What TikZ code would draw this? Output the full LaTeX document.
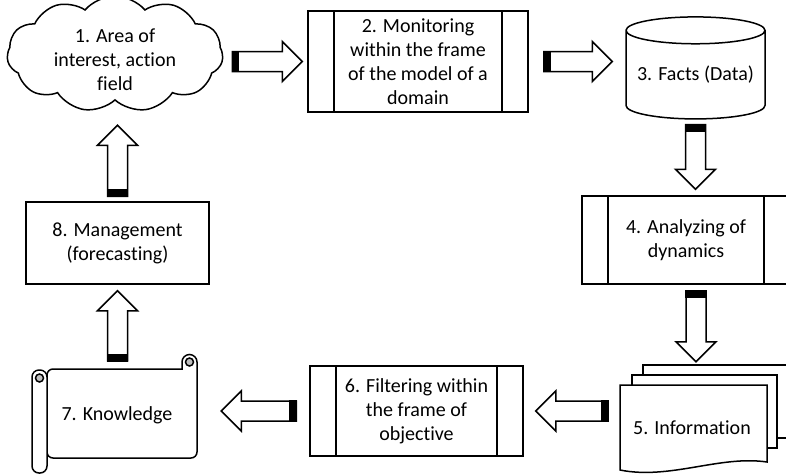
\documentclass[tikz,border=0pt]{standalone}
\usepackage{fontspec}
\setmainfont{Carlito}[Ligatures=NoCommon]
\usetikzlibrary{calc}
\usetikzlibrary{shapes.symbols}
\usetikzlibrary{shapes.geometric}
\tikzstyle{object}=[line width=1.5pt]
\tikzstyle{stage}=[object, draw, fill=white, align=center, inner sep=0pt]
\tikzstyle{process}=[stage, path picture={
    \draw[object] ([xshift=26pt]path picture bounding box.north west)
      -- ([xshift=26pt]path picture bounding box.south west);
    \draw[object] ([xshift=-26pt]path picture bounding box.north east)
      -- ([xshift=-26pt]path picture bounding box.south east);}]
\tikzstyle{fatarrow}=[object, draw, fill=white, line join=miter]

% hollow block arrow from #1 (tail) to #2 (tip)
\newcommand\blockarrow[2]{%
  \draw[fatarrow] let \p1=(#1), \p2=(#2),
      \n1={veclen(\x2-\x1,\y2-\y1)}, \n2={atan2(\y2-\y1,\x2-\x1)} in
    [shift={(\p1)}, rotate=\n2]
    (0pt,-10pt) -- ({\n1-20pt},-10pt) -- ({\n1-20pt},-20pt) -- (\n1,0pt)
    -- ({\n1-20pt},20pt) -- ({\n1-20pt},10pt) -- (0pt,10pt) -- cycle;
  \fill let \p1=(#1), \p2=(#2), \n2={atan2(\y2-\y1,\x2-\x1)} in
    [shift={(\p1)}, rotate=\n2]
    (-0.75pt,-10.75pt) rectangle (7pt,10.75pt);}

\begin{document}
\begin{tikzpicture}[x=1pt, y=-1pt, font=\fontsize{20}{24}\selectfont]
  \useasboundingbox (0,0) rectangle (786,475);

  \node[stage, cloud, cloud puffs=11, cloud puff arc=100, cloud ignores aspect,
    minimum width=216, minimum height=116] (area) at (115,54) {};
  \node[align=center] (areatext) at (115,60) {1. Area of\\interest, action\\field};
  \node[process, minimum width=220, minimum height=101] (monitor) at (418,61.5)
    {2. Monitoring\\within the frame\\of the model of a\\domain};
  \node[stage, cylinder, shape border rotate=90, aspect=0.23,
    minimum width=139, minimum height=102] (facts) at (695.5,75)
    {3. Facts (Data)};
  \node[process, minimum width=208, minimum height=88] (analyze) at (686,240)
    {4. Analyzing of\\dynamics};

  % stack of pages
  \draw[object, fill=white] (643,365) rectangle (795,438);
  \draw[object, fill=white] (632,375) rectangle (777,448);
  \draw[object, fill=white] (620,385) -- (767,385) -- (767,462)
    .. controls (720,455) and (670,480) .. (620,470) -- cycle;
  \node (info) at (692,428) {5. Information};

  \node[process, minimum width=213, minimum height=90] (filter) at (416.5,411)
    {6. Filtering within\\the frame of\\objective};

  % scroll
  \draw[object, fill=white] (47,369) -- (182,369) -- (182,362)
    arc[start angle=180, end angle=360, radius=7.5]
    [rounded corners=6] -- (197,458) -- (47,458) -- cycle;
  \filldraw[object, fill=gray!50] (189.5,362) circle[radius=4];
  \draw[object, fill=white, rounded corners=7] (32,370) rectangle (47,473);
  \filldraw[object, fill=gray!50] (39.5,378) circle[radius=4];
  \node (know) at (117,415) {7. Knowledge};

  \node[stage, minimum width=183, minimum height=82] (manage) at (117.5,243)
    {8. Management\\(forecasting)};

  \blockarrow{$(monitor.west)+(-75,0)$}{$(monitor.west)+(-5,0)$}
  \blockarrow{$(monitor.east)+(15,0)$}{$(monitor.east -| facts.west)+(-13,0)$}
  \blockarrow{$(facts.south)+(0,5)$}{$(facts.south |- analyze.north)+(0,-6)$}
  \blockarrow{$(analyze.south)+(10,6)$}{$(analyze.south)+(10,77)$}
  \blockarrow{$(filter.east)+(84,0)$}{$(filter.east)+(12,0)$}
  \blockarrow{$(filter.west)+(-13,0)$}{$(filter.west)+(-88,0)$}
  \blockarrow{$(manage.south)+(0,76)$}{$(manage.south)+(0,6)$}
  \blockarrow{$(manage.north)+(0,-5)$}{$(manage.north)+(0,-76)$}
\end{tikzpicture}
\end{document}
